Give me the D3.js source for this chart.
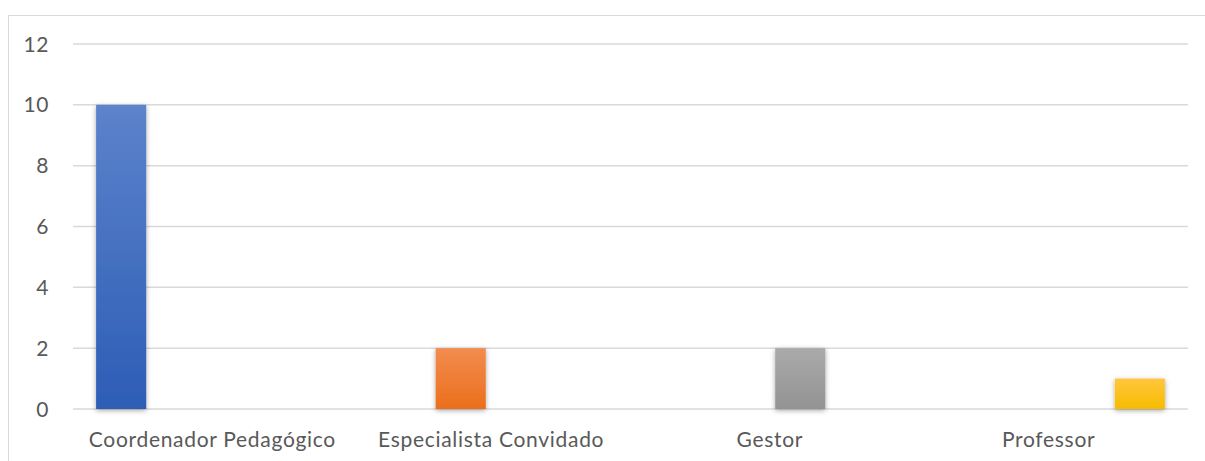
<!DOCTYPE html>
<html>
<head>
<meta charset="utf-8">
<script src="https://cdn.jsdelivr.net/npm/d3@7"></script>
<style>
  html, body { margin: 0; padding: 0; background: #ffffff; }
  svg { display: block; }
  text { font-family: Lato, "Open Sans", sans-serif; fill: #595959; }
</style>
</head>
<body>
<svg id="chart" width="1205" height="461"></svg>
<script>
// Participants by role
const categories = ["Coordenador Pedagógico", "Especialista Convidado", "Gestor", "Professor"];
const values = [10, 2, 2, 1];
const yTicks = [0, 2, 4, 6, 8, 10, 12];
const barColors = [
  ["#5c83cb", "#2d5db6"],
  ["#f28c50", "#eb6f1b"],
  ["#aaaaaa", "#939393"],
  ["#ffc63d", "#f7bc00"]
];

const svg = d3.select("#chart");
const W = 1205, H = 461;
const plot = { left: 73, right: 1188, top: 44, bottom: 409 };

// Chart frame
svg.append("rect")
  .attr("x", 8.5).attr("y", 15.5)
  .attr("width", W + 10).attr("height", H + 10)
  .attr("fill", "none").attr("stroke", "#d9d9d9").attr("stroke-width", 1);

const defs = svg.append("defs");
barColors.forEach((c, i) => {
  const g = defs.append("linearGradient").attr("id", "grad" + i)
    .attr("x1", 0).attr("y1", 0).attr("x2", 0).attr("y2", 1);
  g.append("stop").attr("offset", "0%").attr("stop-color", c[0]);
  g.append("stop").attr("offset", "100%").attr("stop-color", c[1]);
});
const shadow = defs.append("filter").attr("id", "shadow")
  .attr("x", "-50%").attr("y", "-50%").attr("width", "200%").attr("height", "200%");
shadow.append("feDropShadow")
  .attr("dx", 0).attr("dy", 1.5).attr("stdDeviation", 2.5)
  .attr("flood-color", "#000").attr("flood-opacity", 0.35);

const y = d3.scaleLinear().domain([0, 12]).range([plot.bottom, plot.top]);
const x0 = d3.scaleBand().domain(categories).range([plot.left, plot.right]).padding(0);
const x1 = d3.scaleBand().domain(categories).range([0, x0.bandwidth()])
  .paddingInner(0.176).paddingOuter(0.38);

// Gridlines
svg.append("g").selectAll("line").data(yTicks).join("line")
  .attr("x1", plot.left).attr("x2", plot.right)
  .attr("y1", d => y(d)).attr("y2", d => y(d))
  .attr("stroke", "#d9d9d9").attr("stroke-width", 1.5);

// Y axis labels
svg.append("g").selectAll("text").data(yTicks).join("text")
  .attr("x", 49).attr("y", d => y(d))
  .attr("dy", "0.36em")
  .attr("text-anchor", "end")
  .attr("font-size", 21)
  .attr("letter-spacing", 0.6)
  .text(d => d);

// Bars: each role is its own series within its category
svg.append("g").selectAll("rect").data(categories).join("rect")
  .attr("x", (d, i) => x0(d) + x1(d))
  .attr("y", (d, i) => y(values[i]))
  .attr("width", x1.bandwidth())
  .attr("height", (d, i) => y(0) - y(values[i]))
  .attr("fill", (d, i) => `url(#grad${i})`)
  .attr("filter", "url(#shadow)");

// X axis labels
svg.append("g").selectAll("text").data(categories).join("text")
  .attr("x", d => x0(d) + x0.bandwidth() / 2)
  .attr("y", 447)
  .attr("text-anchor", "middle")
  .attr("font-size", 21)
  .attr("letter-spacing", 0.7)
  .text(d => d);
</script>
</body>
</html>
